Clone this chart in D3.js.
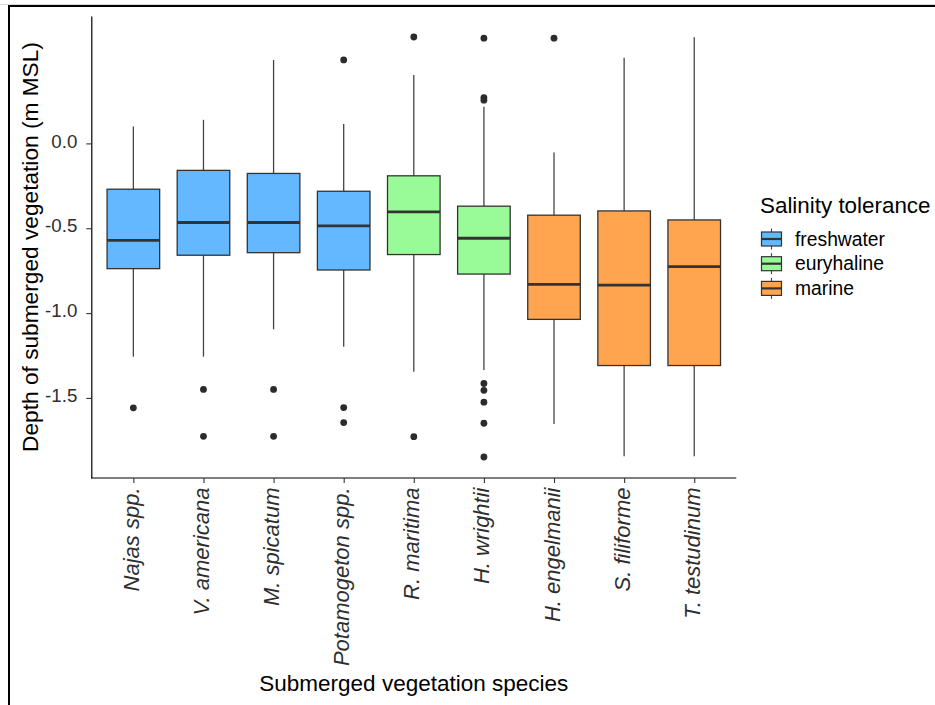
<!DOCTYPE html>
<html>
<head>
<meta charset="utf-8">
<script src="https://cdn.jsdelivr.net/npm/d3@7"></script>
<style>
  html, body { margin: 0; padding: 0; background: #fff; }
  svg { display: block; font-family: "Liberation Sans", Arial, Helvetica, sans-serif; }
</style>
</head>
<body>
<svg id="chart" width="935" height="705"></svg>
<script>
// Species and their salinity group
const species = ["Najas spp.", "V. americana", "M. spicatum", "Potamogeton spp.", "R. maritima",
                 "H. wrightii", "H. engelmanii", "S. filiforme", "T. testudinum"];
const tolerance = ["freshwater", "freshwater", "freshwater", "freshwater", "euryhaline",
                   "euryhaline", "marine", "marine", "marine"];

// Box statistics (m MSL)
const whiskerHigh = [0.100, 0.139, 0.492, 0.114, 0.403, 0.216, -0.053, 0.505, 0.626];
const upperQuartile = [-0.270, -0.159, -0.177, -0.282, -0.191, -0.370, -0.423, -0.398, -0.451];
const medians = [-0.572, -0.466, -0.466, -0.486, -0.404, -0.559, -0.831, -0.835, -0.726];
const lowerQuartile = [-0.738, -0.659, -0.644, -0.746, -0.655, -0.770, -1.037, -1.309, -1.309];
const whiskerLow = [-1.257, -1.257, -1.096, -1.198, -1.346, -1.336, -1.653, -1.844, -1.844];
const outliers = [
  [-1.558],
  [-1.450, -1.726],
  [-1.450, -1.726],
  [0.492, -1.557, -1.645],
  [0.627, -1.728],
  [0.620, 0.270, 0.255, -1.415, -1.455, -1.525, -1.649, -1.848],
  [0.620],
  [],
  []
];

const groups = ["freshwater", "euryhaline", "marine"];
const groupColors = ["#63B8FF", "#98FB98", "#FFA54F"];
const yTicks = [-1.5, -1.0, -0.5, 0.0];
const yTickLabels = ["-1.5", "-1.0", "-0.5", "0.0"];

const svg = d3.select("#chart");
const plot = { left: 91.3, right: 736.3, top: 16, bottom: 478 };

// Frame around the figure
svg.append("line").attr("x1", 0).attr("x2", 935).attr("y1", 4.5).attr("y2", 4.5)
  .attr("stroke", "#d9d9d9").attr("stroke-width", 1);
svg.append("line").attr("x1", 8).attr("x2", 935).attr("y1", 6).attr("y2", 6)
  .attr("stroke", "#000").attr("stroke-width", 2);
svg.append("line").attr("x1", 9).attr("x2", 9).attr("y1", 5).attr("y2", 705)
  .attr("stroke", "#000").attr("stroke-width", 2);

// Scales
const allVals = whiskerHigh.concat(whiskerLow, outliers.flat());
const vMin = d3.min(allVals), vMax = d3.max(allVals);
const pad = (vMax - vMin) * 0.05;
const y = d3.scaleLinear().domain([vMin - pad, vMax + pad]).range([plot.bottom, plot.top]);

const step = (plot.right - plot.left) / (species.length + 0.2);
const x = d3.scalePoint().domain(species)
  .range([plot.left + 0.6 * step, plot.right - 0.6 * step]);
const boxW = step * 0.75;
const color = d3.scaleOrdinal().domain(groups).range(groupColors);

// Axes
const yAxis = svg.append("g").attr("transform", `translate(${plot.left},0)`)
  .call(d3.axisLeft(y).tickValues(yTicks).tickFormat((d, i) => yTickLabels[i])
    .tickSize(5).tickPadding(9).tickSizeOuter(0));
yAxis.select(".domain").attr("stroke", "#000").attr("stroke-width", 1.2);
yAxis.selectAll(".tick line").attr("stroke", "#333").attr("stroke-width", 1.1);
yAxis.selectAll(".tick text").attr("font-size", "18.7px").attr("fill", "#2e2e2e")
  .attr("font-family", "'Liberation Sans', Arial, sans-serif").attr("dy", "0.2em");

const xAxis = svg.append("g").attr("transform", `translate(0,${plot.bottom})`)
  .call(d3.axisBottom(x).tickSize(5).tickSizeOuter(0));
xAxis.select(".domain").attr("stroke", "#000").attr("stroke-width", 1.2)
  .attr("d", `M${plot.left},0H${plot.right}`);
xAxis.selectAll(".tick line").attr("stroke", "#333").attr("stroke-width", 1.1);
xAxis.selectAll(".tick text")
  .attr("font-size", "22px").attr("font-style", "italic").attr("fill", "#2e2e2e")
  .attr("font-family", "'Liberation Sans', Arial, sans-serif")
  .attr("text-anchor", "end")
  .attr("transform", "translate(0,9.5) rotate(-90)")
  .attr("x", 0).attr("y", 0).attr("dy", "5px");

// Boxes
const boxes = svg.append("g").selectAll("g").data(species).join("g")
  .attr("transform", d => `translate(${x(d)},0)`);

boxes.append("line")
  .attr("y1", (d, i) => y(whiskerHigh[i])).attr("y2", (d, i) => y(upperQuartile[i]))
  .attr("stroke", "#444").attr("stroke-width", 1.3);
boxes.append("line")
  .attr("y1", (d, i) => y(lowerQuartile[i])).attr("y2", (d, i) => y(whiskerLow[i]))
  .attr("stroke", "#444").attr("stroke-width", 1.3);
boxes.append("rect")
  .attr("x", -boxW / 2).attr("width", boxW)
  .attr("y", (d, i) => y(upperQuartile[i]))
  .attr("height", (d, i) => y(lowerQuartile[i]) - y(upperQuartile[i]))
  .attr("fill", (d, i) => color(tolerance[i]))
  .attr("stroke", "#333").attr("stroke-width", 1.3);
boxes.append("line")
  .attr("x1", -boxW / 2).attr("x2", boxW / 2)
  .attr("y1", (d, i) => y(medians[i])).attr("y2", (d, i) => y(medians[i]))
  .attr("stroke", "#333").attr("stroke-width", 2.8);
boxes.each(function (d, i) {
  d3.select(this).selectAll("circle").data(outliers[i]).join("circle")
    .attr("cx", 0).attr("cy", v => y(v)).attr("r", 3.4).attr("fill", "#2b2b2b");
});

// Axis titles
svg.append("text")
  .attr("transform", `translate(38,${(plot.top + plot.bottom) / 2}) rotate(-90)`)
  .attr("text-anchor", "middle").attr("font-size", "22.7px").attr("fill", "#000")
  .text("Depth of submerged vegetation (m MSL)");
svg.append("text")
  .attr("x", (plot.left + plot.right) / 2).attr("y", 691)
  .attr("text-anchor", "middle").attr("font-size", "22.5px").attr("fill", "#000")
  .text("Submerged vegetation species");

// Legend
const legend = svg.append("g").attr("transform", "translate(760,0)");
legend.append("text").attr("x", 0).attr("y", 213)
  .attr("font-size", "22.4px").attr("fill", "#000").text("Salinity tolerance");
const keys = legend.selectAll("g.key").data(groups).join("g").attr("class", "key")
  .attr("transform", (d, i) => `translate(0,${239 + i * 24.7})`);
keys.append("line").attr("x1", 11.5).attr("x2", 11.5).attr("y1", -10.5).attr("y2", 10.5)
  .attr("stroke", "#444").attr("stroke-width", 1.1);
keys.append("rect").attr("x", 1.5).attr("y", -7).attr("width", 20).attr("height", 14)
  .attr("fill", d => color(d)).attr("stroke", "#333").attr("stroke-width", 1.2);
keys.append("line").attr("x1", 1.5).attr("x2", 21.5).attr("y1", 0).attr("y2", 0)
  .attr("stroke", "#333").attr("stroke-width", 2.2);
keys.append("text").attr("x", 35).attr("y", 0).attr("dy", "0.35em")
  .attr("font-size", "19.3px").attr("fill", "#000").text(d => d);
</script>
</body>
</html>
